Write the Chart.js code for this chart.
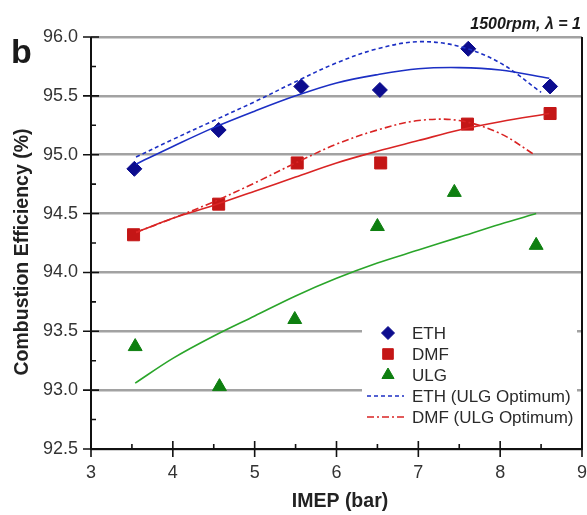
<!DOCTYPE html>
<html>
<head>
<meta charset="utf-8">
<script src="https://cdn.jsdelivr.net/npm/chart.js@4/dist/chart.umd.min.js"></script>
<style>
  html, body { margin: 0; padding: 0; background: #fff; }
  #wrap { width: 587px; height: 515px; position: relative; }
</style>
</head>
<body>
<div id="wrap"><canvas id="c" width="587" height="515"></canvas></div>
<script>
// Measured combustion efficiency (%) against IMEP (bar), 1500 rpm, lambda = 1
const ethImep = [3.53, 4.56, 5.57, 6.53, 7.61, 8.61];
const ethEff  = [94.88, 95.21, 95.58, 95.55, 95.90, 95.58];
const dmfImep = [3.52, 4.56, 5.52, 6.54, 7.60, 8.61];
const dmfEff  = [94.32, 94.58, 94.93, 94.93, 95.26, 95.35];
const ulgImep = [3.54, 4.57, 5.49, 6.50, 7.44, 8.44];
const ulgEff  = [93.37, 93.03, 93.60, 94.39, 94.68, 94.23];

// Trend curves, read at fixed IMEP stations
const ethFitX = [3.55, 4, 4.5, 5, 5.5, 6, 6.5, 7, 7.5, 8, 8.6];
const ethFitY = [94.92, 95.07, 95.23, 95.37, 95.50, 95.61, 95.68, 95.73, 95.74, 95.72, 95.65];
const dmfFitX = [3.55, 4, 4.5, 5, 5.5, 6, 6.5, 7, 7.5, 8, 8.6];
const dmfFitY = [94.34, 94.46, 94.57, 94.69, 94.81, 94.93, 95.03, 95.12, 95.21, 95.28, 95.35];
const ulgFitX = [3.54, 4, 4.5, 5, 5.5, 6, 6.5, 7, 7.5, 8, 8.44];
const ulgFitY = [93.06, 93.27, 93.46, 93.63, 93.80, 93.95, 94.08, 94.19, 94.30, 94.41, 94.50];

// Trends at the ULG-optimum settings
const ethOptX = [3.55, 4, 4.5, 5, 5.5, 6, 6.5, 7, 7.5, 8, 8.5];
const ethOptY = [94.98, 95.13, 95.29, 95.45, 95.62, 95.78, 95.90, 95.96, 95.92, 95.78, 95.53];
const dmfOptX = [3.55, 4, 4.5, 5, 5.5, 6, 6.5, 7, 7.5, 8, 8.42];
const dmfOptY = [94.34, 94.46, 94.60, 94.76, 94.93, 95.09, 95.21, 95.29, 95.29, 95.18, 95.00];

const xTicks = [3, 4, 5, 6, 7, 8, 9];
const yTicks = [92.5, 93.0, 93.5, 94.0, 94.5, 95.0, 95.5, 96.0];

const FONT = "'Liberation Sans', Arial, sans-serif";
const pts = (xs, ys) => xs.map((x, i) => ({ x: x, y: ys[i] }));

const C = {
  ethMark: '#0c0c8e', dmfMark: '#c41616', ulgMark: '#0e7f10',
  ethLine: '#1c2fc4', dmfLine: '#d92424', ulgLine: '#2aa52a'
};

const fitStyle = (color, dash) => ({
  showLine: true, pointRadius: 0, pointHoverRadius: 0,
  borderColor: color, borderWidth: 1.6, borderDash: dash || [],
  tension: 0.35, fill: false
});

const datasets = [
  Object.assign({ label: 'ETH fit', data: pts(ethFitX, ethFitY) }, fitStyle(C.ethLine)),
  Object.assign({ label: 'DMF fit', data: pts(dmfFitX, dmfFitY) }, fitStyle(C.dmfLine)),
  Object.assign({ label: 'ULG fit', data: pts(ulgFitX, ulgFitY) }, fitStyle(C.ulgLine)),
  Object.assign({ label: 'ETH (ULG Optimum)', data: pts(ethOptX, ethOptY) }, fitStyle(C.ethLine, [4, 3])),
  Object.assign({ label: 'DMF (ULG Optimum)', data: pts(dmfOptX, dmfOptY) }, fitStyle(C.dmfLine, [7, 3, 2, 3])),
  { label: 'ETH', data: pts(ethImep, ethEff), showLine: false, pointStyle: 'rectRot',
    pointRadius: 7.5, backgroundColor: C.ethMark, borderColor: C.ethMark, borderWidth: 1, mark: true, legendRadius: 6.5 },
  { label: 'DMF', data: pts(dmfImep, dmfEff), showLine: false, pointStyle: 'rect',
    pointRadius: 8.5, backgroundColor: C.dmfMark, borderColor: C.dmfMark, borderWidth: 1, mark: true, legendRadius: 7.5 },
  { label: 'ULG', data: pts(ulgImep, ulgEff), showLine: false, pointStyle: 'triangle',
    pointRadius: 8, backgroundColor: C.ulgMark, borderColor: C.ulgMark, borderWidth: 1, mark: true, legendRadius: 7 }
];

// Axis frame with crossing major ticks and inward minor ticks
const framePlugin = {
  id: 'frame',
  afterDatasetsDraw(chart) {
    const { ctx, chartArea: a, scales: { x, y } } = chart;
    ctx.save();
    ctx.strokeStyle = '#111';
    ctx.lineWidth = 2;
    ctx.beginPath();
    ctx.moveTo(a.left, a.top); ctx.lineTo(a.left, a.bottom);
    ctx.lineTo(a.right, a.bottom); ctx.lineTo(a.right, a.top);
    ctx.stroke();
    ctx.lineWidth = 1.6;
    ctx.beginPath();
    xTicks.forEach(v => {
      const px = x.getPixelForValue(v);
      ctx.moveTo(px, a.bottom - 8); ctx.lineTo(px, a.bottom + 8);
    });
    for (let i = 0; i < xTicks.length - 1; i++) {
      const px = x.getPixelForValue((xTicks[i] + xTicks[i + 1]) / 2);
      ctx.moveTo(px, a.bottom); ctx.lineTo(px, a.bottom - 5);
    }
    yTicks.forEach(v => {
      const py = y.getPixelForValue(v);
      ctx.moveTo(a.left - 8, py); ctx.lineTo(a.left + 8, py);
    });
    for (let i = 0; i < yTicks.length - 1; i++) {
      const py = y.getPixelForValue((yTicks[i] + yTicks[i + 1]) / 2);
      ctx.moveTo(a.left, py); ctx.lineTo(a.left + 5, py);
    }
    ctx.stroke();
    ctx.restore();
  }
};

// Legend box placed inside the plot area
const insetLegend = {
  id: 'insetLegend',
  afterDraw(chart) {
    const { ctx } = chart;
    const order = ['ETH', 'DMF', 'ULG', 'ETH (ULG Optimum)', 'DMF (ULG Optimum)'];
    const left = 362, top = 322, w = 215, h = 106;
    ctx.save();
    ctx.fillStyle = '#fff';
    ctx.fillRect(left, top, w, h);
    ctx.font = '17px ' + FONT;
    ctx.textBaseline = 'middle';
    order.forEach((name, i) => {
      const ds = chart.data.datasets.find(d => d.label === name);
      const cy = 333 + i * 21;
      if (ds.mark) {
        ctx.fillStyle = ds.backgroundColor;
        ctx.strokeStyle = ds.borderColor;
        Chart.helpers.drawPoint(ctx, { pointStyle: ds.pointStyle, radius: ds.legendRadius, borderWidth: 1, rotation: 0 }, 388, cy);
      } else {
        ctx.strokeStyle = ds.borderColor;
        ctx.lineWidth = 1.6;
        ctx.setLineDash(ds.borderDash);
        ctx.beginPath(); ctx.moveTo(367, cy); ctx.lineTo(404, cy); ctx.stroke();
        ctx.setLineDash([]);
      }
      ctx.fillStyle = '#2a2a2a';
      ctx.fillText(name, 412, cy + 1);
    });
    ctx.restore();
  }
};

// Panel letter, operating-point note and axis titles
const notes = {
  id: 'notes',
  afterDraw(chart) {
    const { ctx } = chart;
    ctx.save();
    ctx.fillStyle = '#1a1a1a';
    ctx.textBaseline = 'alphabetic';
    ctx.font = 'bold 34px ' + FONT;
    ctx.textAlign = 'left';
    ctx.fillText('b', 11, 63);
    ctx.font = 'italic bold 16px ' + FONT;
    ctx.textAlign = 'right';
    ctx.fillText('1500rpm, \u03BB = 1', 581, 29);

    ctx.fillStyle = '#222';
    ctx.font = 'bold 19.5px ' + FONT;
    ctx.textAlign = 'center';
    ctx.textBaseline = 'middle';
    ctx.fillText('IMEP (bar)', 340, 502);
    ctx.translate(23, 252);
    ctx.rotate(-Math.PI / 2);
    ctx.fillText('Combustion Efficiency (%)', 0, 0);
    ctx.restore();
  }
};

new Chart(document.getElementById('c'), {
  type: 'scatter',
  data: { datasets: datasets },
  options: {
    responsive: false,
    animation: false,
    events: [],
    layout: { autoPadding: false, padding: { left: 0, right: 5, top: 37, bottom: 0 } },
    plugins: { legend: { display: false }, tooltip: { enabled: false } },
    scales: {
      x: {
        type: 'linear', min: 3, max: 9,
        afterBuildTicks: s => { s.ticks = xTicks.map(v => ({ value: v })); },
        afterFit: s => { s.height = 66; s.paddingLeft = 0; s.paddingRight = 0; },
        grid: { display: false, drawTicks: false },
        border: { display: false },
        ticks: { padding: 13, color: '#333', font: { family: FONT, size: 18 }, callback: v => String(v) }
      },
      y: {
        type: 'linear', min: 92.5, max: 96,
        afterBuildTicks: s => { s.ticks = yTicks.map(v => ({ value: v })); },
        afterFit: s => { s.width = 91; s.paddingTop = 0; s.paddingBottom = 0; },
        grid: { color: '#a2a2a2', lineWidth: 2.5, drawTicks: false },
        border: { display: false },
        ticks: { padding: 13, color: '#333', font: { family: FONT, size: 18 }, callback: v => Number(v).toFixed(1) }
      }
    }
  },
  plugins: [framePlugin, insetLegend, notes]
});
</script>
</body>
</html>
